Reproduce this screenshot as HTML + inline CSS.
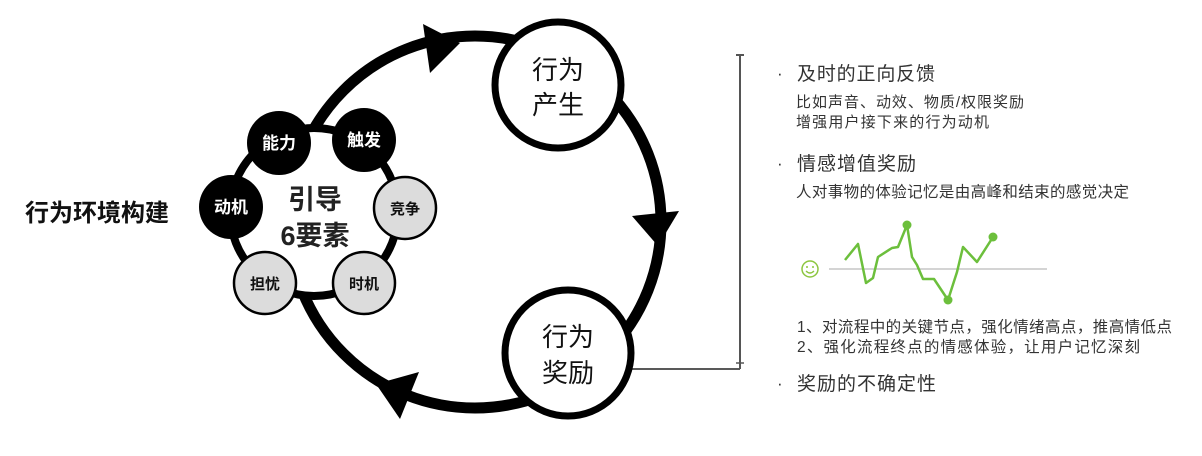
<!DOCTYPE html>
<html><head><meta charset="utf-8"><style>
html,body{margin:0;padding:0;background:#fff;width:1202px;height:456px;overflow:hidden}
svg{display:block}
text{font-family:"Liberation Sans","Noto Sans CJK SC",sans-serif}
</style></head><body>
<svg width="1202" height="456" viewBox="0 0 1202 456" xmlns="http://www.w3.org/2000/svg">
<!-- big loop -->
<circle cx="475" cy="222" r="186" fill="none" stroke="#000" stroke-width="11"/>
<!-- arrowheads -->
<polygon points="423,24 460,43 430,73" fill="#000"/>
<polygon points="632,216 679,211 658,246" fill="#000"/>
<polygon points="419,372 400,419 376,384" fill="#000"/>
<!-- small ring -->
<circle cx="314" cy="212" r="84" fill="#fff" stroke="#000" stroke-width="8"/>
<!-- connector & bracket -->
<line x1="628" y1="369" x2="740" y2="369" stroke="#222" stroke-width="1.5"/>
<line x1="740" y1="55" x2="740" y2="369" stroke="#555" stroke-width="2"/>
<line x1="736" y1="55" x2="744" y2="55" stroke="#555" stroke-width="2"/>
<line x1="736" y1="363" x2="744" y2="363" stroke="#555" stroke-width="1.5"/>
<!-- main nodes -->
<circle cx="558" cy="85" r="63" fill="#fff" stroke="#000" stroke-width="7"/>
<text x="558" y="79" font-size="26" text-anchor="middle" fill="#111">行为</text>
<text x="558" y="114" font-size="26" text-anchor="middle" fill="#111">产生</text>
<circle cx="568" cy="353" r="63" fill="#fff" stroke="#000" stroke-width="7"/>
<text x="568" y="346" font-size="26" text-anchor="middle" fill="#111">行为</text>
<text x="568" y="382" font-size="26" text-anchor="middle" fill="#111">奖励</text>
<!-- center -->
<text x="315" y="209" font-size="27" font-weight="bold" text-anchor="middle" fill="#222">引导</text>
<text x="315" y="245" font-size="27" font-weight="bold" text-anchor="middle" fill="#222">6要素</text>
<!-- small nodes -->
<circle cx="279" cy="143" r="32" fill="#000"/>
<text x="279" y="149" font-size="17" font-weight="bold" text-anchor="middle" fill="#fff">能力</text>
<circle cx="364" cy="140" r="32" fill="#000"/>
<text x="364" y="146" font-size="17" font-weight="bold" text-anchor="middle" fill="#fff">触发</text>
<circle cx="231" cy="207" r="32" fill="#000"/>
<text x="231" y="213" font-size="17" font-weight="bold" text-anchor="middle" fill="#fff">动机</text>
<circle cx="405" cy="208" r="31" fill="#dcdcdc" stroke="#000" stroke-width="2.5"/>
<text x="405" y="214" font-size="15" font-weight="bold" text-anchor="middle" fill="#111">竞争</text>
<circle cx="364" cy="283" r="31" fill="#dcdcdc" stroke="#000" stroke-width="2.5"/>
<text x="364" y="289" font-size="15" font-weight="bold" text-anchor="middle" fill="#111">时机</text>
<circle cx="265" cy="283" r="31" fill="#dcdcdc" stroke="#000" stroke-width="2.5"/>
<text x="265" y="289" font-size="15" font-weight="bold" text-anchor="middle" fill="#111">担忧</text>
<!-- left title -->
<text x="25" y="221" font-size="24" font-weight="bold" fill="#111">行为环境构建</text>
<!-- right text -->
<g fill="#333">
<text x="777" y="79" font-size="17">·</text>
<text x="797" y="80" font-size="19" textLength="138">及时的正向反馈</text>
<text x="796" y="107" font-size="15" textLength="228">比如声音、动效、物质/权限奖励</text>
<text x="796" y="127" font-size="15" textLength="193">增强用户接下来的行为动机</text>
<text x="777" y="169" font-size="17">·</text>
<text x="797" y="170" font-size="19" textLength="119">情感增值奖励</text>
<text x="796" y="197" font-size="15.5" textLength="333">人对事物的体验记忆是由高峰和结束的感觉决定</text>
<text x="797" y="332" font-size="15.5" textLength="375">1、对流程中的关键节点，强化情绪高点，推高情低点</text>
<text x="797" y="352" font-size="15.5" textLength="343">2、强化流程终点的情感体验，让用户记忆深刻</text>
<text x="777" y="389" font-size="17">·</text>
<text x="797" y="390" font-size="19" textLength="139">奖励的不确定性</text>
</g>
<!-- chart -->
<line x1="829" y1="269" x2="1047" y2="269" stroke="#aaa" stroke-width="1"/>
<circle cx="810" cy="269" r="8" fill="none" stroke="#8cc63f" stroke-width="1.5"/>
<circle cx="807" cy="267" r="1" fill="#8cc63f"/><circle cx="813" cy="267" r="1" fill="#8cc63f"/>
<path d="M806,271 Q810,275 814,271" fill="none" stroke="#8cc63f" stroke-width="1.3"/>
<polyline points="845,260 858,244 866,283 873,278 878,257 892,248 898,247 907,225 912,257 917,265 923,279 934,279 948,300 957,272 963,247 977,262 993,237" fill="none" stroke="#6cbf3c" stroke-width="2.5" stroke-linejoin="round"/>
<circle cx="907" cy="225" r="4.5" fill="#6cbf3c"/>
<circle cx="948" cy="300" r="4.5" fill="#6cbf3c"/>
<circle cx="993" cy="237" r="4.5" fill="#6cbf3c"/>
</svg>
</body></html>
